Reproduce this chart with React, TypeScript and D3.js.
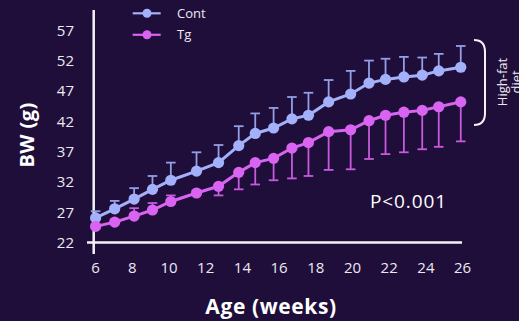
import React from "react";
import * as d3 from "d3";

// Body weight over time, mean ± SEM, high-fat diet cohort
const ages = [6, 7.04, 8.1, 9.1, 10.1, 11.5, 12.7, 13.8, 14.7, 15.7, 16.7, 17.6, 18.7, 19.9, 20.9, 21.8, 22.8, 23.8, 24.7, 25.9];
const contMean = [26.1, 27.6, 29.2, 30.8, 32.3, 33.8, 35.2, 38.0, 40.0, 40.9, 42.4, 43.0, 45.2, 46.5, 48.3, 48.9, 49.3, 49.6, 50.3, 50.9];
const contErr = [1.1, 1.3, 1.8, 2.2, 2.9, 3.1, 2.9, 3.2, 3.3, 3.3, 3.6, 3.7, 3.6, 3.8, 3.7, 3.4, 3.3, 2.9, 2.8, 3.5];
const tgMean = [24.7, 25.4, 26.4, 27.4, 28.8, 30.2, 31.3, 33.6, 35.2, 35.9, 37.6, 38.5, 40.3, 40.6, 42.1, 43.0, 43.5, 43.8, 44.4, 45.2];
const tgErrUp = [0.4, 0.4, 1.3, 1.15, 1.0, 0.4, 0, 0, 0, 0, 0, 0, 0, 0, 0, 0, 0, 0, 0, 0];
const tgErrDown = [0, 0, 0, 0, 0, 0, 1.5, 2.8, 3.6, 3.6, 5.0, 5.5, 6.3, 6.5, 6.3, 6.4, 6.6, 6.4, 6.6, 6.5];
const yTicks = [22, 27, 32, 37, 42, 47, 52, 57];
const xTicks = [6, 8, 10, 12, 14, 16, 18, 20, 22, 24, 26];
const seriesNames = ["Cont", "Tg"];

const W = 519;
const H = 321;
const BG = "#200e3a";
const CONT = "#a3b1fa";
const CONT_BAR = "#939fe6";
const TG = "#d964f2";
const TG_BAR = "#c75add";
const FONT = "'Open Sans', 'DejaVu Sans', sans-serif";

const x = d3.scaleLinear().domain([6, 26]).range([95.6, 462.6]);
const y = d3.scaleLinear().domain([22, 57]).range([242.8, 30.2]);

type Pt = { a: number; v: number; up: number; down: number };

function Series({ pts, color, barColor }: { pts: Pt[]; color: string; barColor: string }) {
  const line = d3
    .line<Pt>()
    .x((d) => x(d.a))
    .y((d) => y(d.v));
  const cap = 4.8;
  return (
    <g>
      {pts.map((d, i) => {
        const cx = x(d.a);
        const segs: React.ReactNode[] = [];
        if (d.up > 0) {
          const ty = y(d.v + d.up);
          segs.push(
            <g key={`u${i}`}>
              <line x1={cx} x2={cx} y1={y(d.v)} y2={ty} stroke={barColor} strokeWidth={1.8} />
              <line x1={cx - cap} x2={cx + cap} y1={ty} y2={ty} stroke={barColor} strokeWidth={1.8} />
            </g>
          );
        }
        if (d.down > 0) {
          const by = y(d.v - d.down);
          segs.push(
            <g key={`d${i}`}>
              <line x1={cx} x2={cx} y1={y(d.v)} y2={by} stroke={barColor} strokeWidth={1.8} />
              <line x1={cx - cap} x2={cx + cap} y1={by} y2={by} stroke={barColor} strokeWidth={1.8} />
            </g>
          );
        }
        return segs;
      })}
      <path d={line(pts) ?? ""} fill="none" stroke={color} strokeWidth={3} />
      {pts.map((d, i) => (
        <circle key={i} cx={x(d.a)} cy={y(d.v)} r={5.6} fill={color} />
      ))}
    </g>
  );
}

export default function App() {
  const cont: Pt[] = ages.map((a, i) => ({ a, v: contMean[i], up: contErr[i], down: 0 }));
  const tg: Pt[] = ages.map((a, i) => ({ a, v: tgMean[i], up: tgErrUp[i], down: tgErrDown[i] }));
  const legendColors = [CONT, TG];

  return (
    <svg
      width={W}
      height={H}
      style={{ position: "absolute", left: 0, top: 0, background: BG, fontFamily: FONT }}
    >
      <rect x={0} y={0} width={W} height={H} fill={BG} />

      {/* axes */}
      <line x1={93.7} x2={93.7} y1={10} y2={254} stroke="#f4f2f7" strokeWidth={2.5} />
      <line x1={87} x2={462} y1={242.5} y2={242.5} stroke="#f4f2f7" strokeWidth={2.5} />

      {yTicks.map((t) => (
        <text key={t} x={74} y={y(t)} dy="0.36em" textAnchor="end" fontSize={15} fill="#ece9f2">
          {t}
        </text>
      ))}
      {xTicks.map((t) => (
        <text key={t} x={x(t)} y={272.5} textAnchor="middle" fontSize={15} fill="#ece9f2">
          {t}
        </text>
      ))}

      <text x={271} y={314} textAnchor="middle" fontSize={21} fontWeight={700} letterSpacing={0.6} fill="#ffffff">
        Age (weeks)
      </text>
      <text
        transform="translate(34,135) rotate(-90)"
        textAnchor="middle"
        fontSize={20}
        fontWeight={700}
        letterSpacing={0.4}
        fill="#ffffff"
      >
        BW (g)
      </text>

      <Series pts={cont} color={CONT} barColor={CONT_BAR} />
      <Series pts={tg} color={TG} barColor={TG_BAR} />

      {/* legend */}
      {seriesNames.map((name, i) => {
        const ly = 13.3 + i * 21.5;
        return (
          <g key={name}>
            <line x1={132.7} x2={160.7} y1={ly} y2={ly} stroke={legendColors[i]} strokeWidth={2.2} />
            <circle cx={147} cy={ly} r={4.5} fill={legendColors[i]} />
            <text x={177} y={ly} dy="0.36em" fontSize={13} fill="#ece9f2">
              {name}
            </text>
          </g>
        );
      })}

      <text x={370} y={208} fontSize={19} fontWeight={500} letterSpacing={0.9} fill="#ffffff">
        P&lt;0.001
      </text>

      {/* diet bracket */}
      <path
        d="M474,40 Q485,40 485,52 L485,113 Q485,125 474,125"
        fill="none"
        stroke="#f4f2f7"
        strokeWidth={2}
      />
      <text transform="translate(507,82) rotate(-90)" textAnchor="middle" fontSize={13} fill="#ece9f2">
        High-fat
      </text>
      <text transform="translate(521,82) rotate(-90)" textAnchor="middle" fontSize={13} fill="#ece9f2">
        diet
      </text>
    </svg>
  );
}
